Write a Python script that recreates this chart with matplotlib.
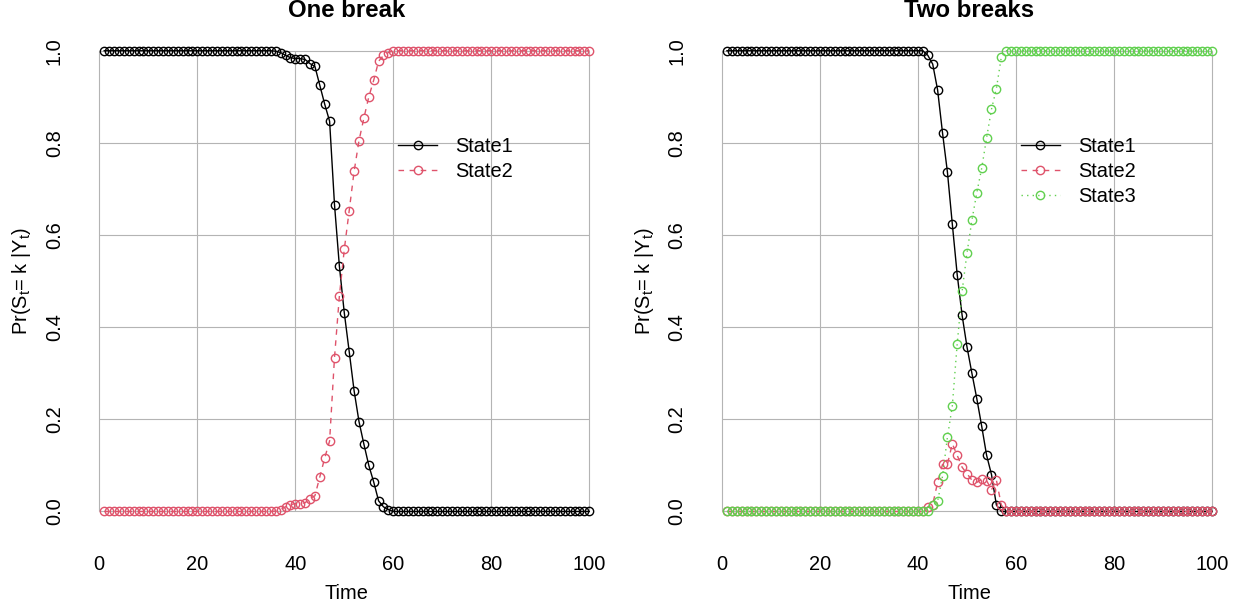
import matplotlib
matplotlib.use('Agg')
import matplotlib.pyplot as plt

plt.rcParams['font.family'] = ['Liberation Sans', 'DejaVu Sans']
plt.rcParams['mathtext.fontset'] = 'custom'
plt.rcParams['mathtext.rm'] = 'Liberation Sans'
plt.rcParams['mathtext.it'] = 'Liberation Sans'

time = list(range(1, 101))

# one break model
one_state1 = [1.0]*35 + [0.999, 0.996, 0.99, 0.985, 0.983, 0.983, 0.981, 0.972, 0.966,
                         0.925, 0.884, 0.847, 0.666, 0.532, 0.431, 0.347, 0.262, 0.195,
                         0.146, 0.100, 0.064, 0.023, 0.010, 0.004] + [0.0]*41
one_state2 = [0.0]*35 + [0.001, 0.004, 0.01, 0.015, 0.017, 0.017, 0.019, 0.028, 0.034,
                         0.075, 0.116, 0.153, 0.334, 0.468, 0.569, 0.653, 0.738, 0.805,
                         0.854, 0.900, 0.936, 0.977, 0.990, 0.996] + [1.0]*41

# two breaks model
two_state1 = [1.0]*41 + [0.99, 0.971, 0.915, 0.822, 0.737, 0.624, 0.514, 0.426, 0.357,
                         0.300, 0.245, 0.185, 0.122, 0.080, 0.014] + [0.0]*44
two_state2 = [0.0]*41 + [0.01, 0.015, 0.063, 0.102, 0.102, 0.147, 0.122, 0.096, 0.082,
                         0.068, 0.063, 0.070, 0.067, 0.047, 0.068, 0.014] + [0.0]*43
two_state3 = [0.0]*42 + [0.014, 0.022, 0.076, 0.161, 0.229, 0.364, 0.478, 0.561, 0.632,
                         0.692, 0.745, 0.811, 0.873, 0.918, 0.986] + [1.0]*43

titles = ['One break', 'Two breaks']
xticks = [0, 20, 40, 60, 80, 100]
yticks = [0.0, 0.2, 0.4, 0.6, 0.8, 1.0]
colors = ['#000000', '#DF536B', '#61D04F']
styles = ['-', (0, (4, 4)), (0, (1, 3))]

W, H = 1240, 608
FS = 14.4


def panel(rect, series, title):
  ax = fig.add_axes(rect)
  ax.set_xlim(-2.96, 103.96)
  ax.set_ylim(-0.04, 1.04)
  ax.hlines(yticks, 0, 100, color='#B4B4B4', lw=0.8, zorder=0)
  ax.vlines(xticks, 0, 1, color='#B4B4B4', lw=0.8, zorder=0)
  for i, y in enumerate(series):
    ax.plot(time, y, linestyle=styles[i], color=colors[i], lw=1.0, marker='o', ms=6.0,
            mfc='none', mec=colors[i], mew=1.0, label=f'State{i+1}', zorder=2+i)
  for s in ax.spines.values():
    s.set_visible(False)
  ax.set_xticks(xticks)
  ax.set_xticklabels([str(v) for v in xticks])
  ax.set_yticks(yticks)
  ax.set_yticklabels([f'{v:.1f}' for v in yticks], rotation=90, va='center')
  ax.tick_params(length=0, labelsize=FS)
  ax.tick_params(axis='x', pad=18)
  ax.tick_params(axis='y', pad=15)
  ax.set_xlabel('Time', fontsize=FS)
  ax.set_ylabel(r'Pr(S$_\mathrm{t}$= k |Y$_\mathrm{t}$)', fontsize=FS)
  ax.xaxis.set_label_coords(0.5, -0.109)
  ax.yaxis.set_label_coords(-0.099, 0.5)
  ax.legend(loc='upper left', bbox_to_anchor=(0.598, 0.789), frameon=False, fontsize=FS,
            borderpad=0, borderaxespad=0, handlelength=1.95, handletextpad=0.9,
            labelspacing=0.3)
  cx = rect[0] + rect[2]/2
  fig.text(cx, 1 - 17/H, title, ha='center', va='baseline', fontsize=17.3, fontweight='bold')
  return ax


fig = plt.figure(figsize=(W/100, H/100), dpi=100)
panel([84.8/W, (H-529.9)/H, 523.9/W, 497.6/H], [one_state1, one_state2], titles[0])
panel([707.5/W, (H-529.9)/H, 523.9/W, 497.6/H], [two_state1, two_state2, two_state3], titles[1])
plt.savefig('out.png', dpi=100)
